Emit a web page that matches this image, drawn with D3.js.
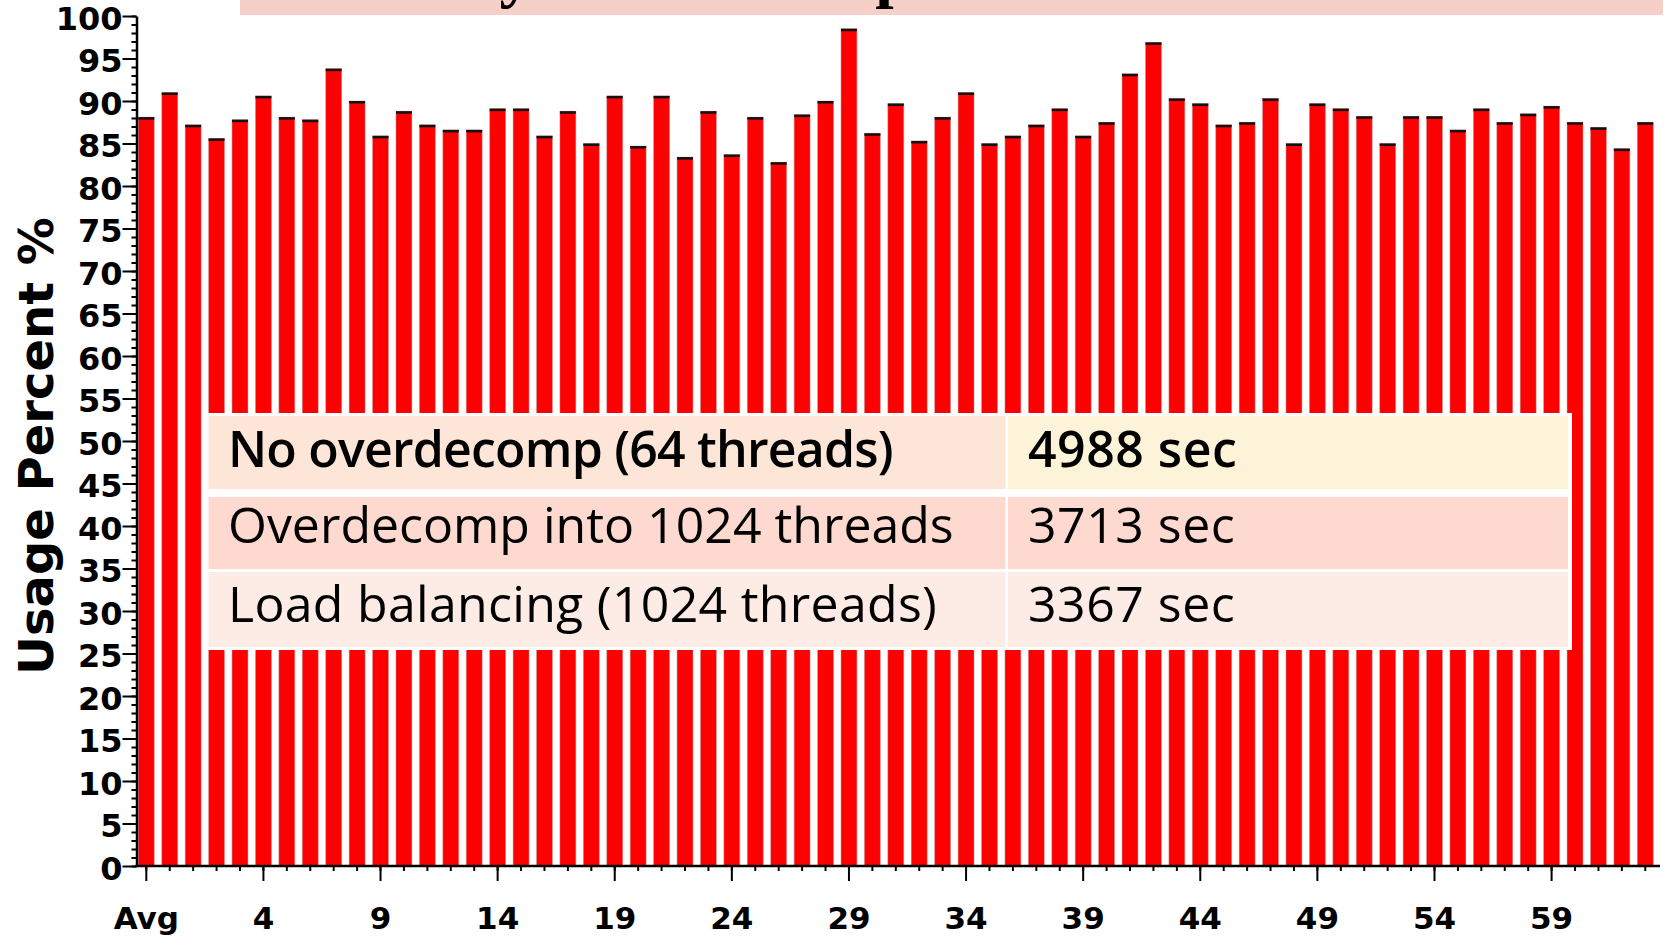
<!DOCTYPE html>
<html>
<head>
<meta charset="utf-8">
<script src="https://cdn.jsdelivr.net/npm/d3@7"></script>
<style>
  body { margin: 0; background: #fff; }
  svg { display: block; }
  .axis path, .axis line { stroke: #000; }
  .axis text { font-family: "DejaVu Sans", sans-serif; font-weight: bold; fill: #000; }
  .cell-text { font-family: "Open Sans", sans-serif; fill: #000; }
</style>
</head>
<body>
<svg id="chart"></svg>
<script>
'use strict';

// processor ids along the x axis ("Avg" first, then PE 0..63)
var categories = ['Avg', '0', '1', '2', '3', '4', '5', '6', '7', '8', '9', '10', '11', '12', '13', '14', '15',
  '16', '17', '18', '19', '20', '21', '22', '23', '24', '25', '26', '27', '28', '29', '30', '31',
  '32', '33', '34', '35', '36', '37', '38', '39', '40', '41', '42', '43', '44', '45', '46', '47',
  '48', '49', '50', '51', '52', '53', '54', '55', '56', '57', '58', '59', '60', '61', '62', '63'];

// usage percent per processor
var usage = [88.1, 91.0, 87.2, 85.6, 87.8, 90.6, 88.1, 87.8, 93.8, 90.0, 85.9, 88.8, 87.2, 86.6, 86.6, 89.1, 89.1,
  85.9, 88.8, 85.0, 90.6, 84.7, 90.6, 83.4, 88.8, 83.7, 88.1, 82.8, 88.4, 90.0, 98.5, 86.2, 89.7,
  85.3, 88.1, 91.0, 85.0, 85.9, 87.2, 89.1, 85.9, 87.5, 93.2, 96.9, 90.3, 89.7, 87.2, 87.5, 90.3,
  85.0, 89.7, 89.1, 88.2, 85.0, 88.2, 88.2, 86.6, 89.1, 87.5, 88.5, 89.4, 87.5, 86.9, 84.4, 87.5];

var xTickLabels = ['Avg', '4', '9', '14', '19', '24', '29', '34', '39', '44', '49', '54', '59'];
var yTickValues = [0, 5, 10, 15, 20, 25, 30, 35, 40, 45, 50, 55, 60, 65, 70, 75, 80, 85, 90, 95, 100];

// overlay table
var configs = ['No overdecomp (64 threads)', 'Overdecomp into 1024 threads', 'Load balancing (1024 threads)'];
var times = ['4988 sec', '3713 sec', '3367 sec'];

var titleText = 'Utilization by Overdecomposition';

var W = 1671, H = 938;
var svg = d3.select('#chart').attr('width', W).attr('height', H);

var x = d3.scaleBand()
  .domain(categories)
  .range([134.6, 1657])
  .paddingInner(0.32)
  .paddingOuter(0.16);

var y = d3.scaleLinear().domain([0, 100]).range([866, 16]);

// title box, cut off at the top of the picture
var titleBox = svg.append('g');
titleBox.append('rect')
  .attr('x', 240).attr('y', 0).attr('width', 1423).attr('height', 15)
  .attr('fill', '#f6cfc9');
var title = titleBox.append('text')
  .attr('x', 0).attr('y', -5)
  .style('font-family', '"Liberation Serif", serif')
  .style('font-weight', 'bold')
  .style('font-size', '66px')
  .attr('fill', '#000')
  .text(titleText);
// line the descender of "y" up with the one visible in the box
var yIdx = titleText.indexOf('y');
var yBox = title.node().getExtentOfChar(yIdx);
title.attr('x', 516 - (yBox.x + yBox.width / 2));

// bars
var bars = svg.append('g');
bars.selectAll('rect.bar')
  .data(usage)
  .enter().append('rect').attr('class', 'bar')
    .attr('x', function(d, i) { return x(categories[i]); })
    .attr('y', function(d) { return y(d); })
    .attr('width', x.bandwidth())
    .attr('height', function(d) { return y(0) - y(d); })
    .attr('fill', '#ff0000')
    .attr('stroke', 'rgba(200,150,150,0.6)')
    .attr('stroke-width', 0.8);

bars.selectAll('rect.cap')
  .data(usage)
  .enter().append('rect').attr('class', 'cap')
    .attr('x', function(d, i) { return x(categories[i]); })
    .attr('y', function(d) { return y(d); })
    .attr('width', x.bandwidth())
    .attr('height', 2.5)
    .attr('fill', '#111');

// y axis: minor ticks every 1, labelled ticks every 5
var yAxisX = 136.5;
svg.append('g')
  .attr('class', 'axis')
  .attr('transform', 'translate(' + yAxisX + ',0)')
  .call(d3.axisLeft(y).tickValues(d3.range(0, 101, 1)).tickSize(5).tickFormat(''))
  .call(function(g) { g.select('.domain').remove(); })
  .selectAll('line').attr('stroke-width', 2);

var yAxis = svg.append('g')
  .attr('class', 'axis')
  .attr('transform', 'translate(' + yAxisX + ',0)')
  .call(d3.axisLeft(y).tickValues(yTickValues).tickSize(14).tickSizeOuter(0).tickPadding(0));
yAxis.select('.domain').attr('stroke-width', 2.5);
yAxis.selectAll('line').attr('stroke-width', 2);
yAxis.selectAll('text')
  .style('font-size', '32px')
  .attr('y', 3);

// x axis line
svg.append('line')
  .attr('x1', yAxisX - 1).attr('x2', 1660)
  .attr('y1', y(0)).attr('y2', y(0))
  .attr('stroke', '#000').attr('stroke-width', 2.5);

// x axis: small tick per processor, long labelled tick every fifth
svg.append('g')
  .attr('class', 'axis')
  .attr('transform', 'translate(0,' + y(0) + ')')
  .call(d3.axisBottom(x).tickSize(5).tickFormat(''))
  .call(function(g) { g.select('.domain').remove(); })
  .selectAll('line').attr('stroke-width', 2);

var xAxis = svg.append('g')
  .attr('class', 'axis')
  .attr('transform', 'translate(0,' + y(0) + ')')
  .call(d3.axisBottom(x).tickValues(xTickLabels).tickSize(15).tickPadding(26));
xAxis.select('.domain').remove();
xAxis.selectAll('line').attr('stroke-width', 2);
xAxis.selectAll('text').style('font-size', '31px');

// y axis title
svg.append('text')
  .attr('transform', 'translate(53,446) rotate(-90)')
  .attr('text-anchor', 'middle')
  .style('font-family', '"DejaVu Sans", sans-serif')
  .style('font-weight', 'bold')
  .style('font-size', '48px')
  .text('Usage Percent %');

// overlay table
var table = svg.append('g');
table.append('rect')
  .attr('x', 203).attr('y', 413).attr('width', 1369).attr('height', 237)
  .attr('fill', '#fff');

var rowTop = [416, 497, 572];
var rowH = [73, 72, 75];
var leftFill = ['#fde6d8', '#fdd9cf', '#fdece6'];
var rightFill = ['#fdf3d8', '#fdd9cf', '#fdece6'];
var baseline = [467, 543, 622];
var spacing = ['-0.8px', '0px', '0.3px'];

configs.forEach(function(c, i) {
  table.append('rect')
    .attr('x', 208.5).attr('y', rowTop[i]).attr('width', 797).attr('height', rowH[i])
    .attr('fill', leftFill[i]);
  table.append('rect')
    .attr('x', 1008).attr('y', rowTop[i]).attr('width', 560).attr('height', rowH[i])
    .attr('fill', rightFill[i]);
  table.append('text').attr('class', 'cell-text')
    .attr('x', 228).attr('y', baseline[i])
    .style('font-size', '50px')
    .style('font-weight', i === 0 ? 600 : 400)
    .style('letter-spacing', spacing[i])
    .text(c);
  table.append('text').attr('class', 'cell-text')
    .attr('x', 1028).attr('y', baseline[i])
    .style('font-size', '50px')
    .style('font-weight', i === 0 ? 600 : 400)
    .style('letter-spacing', '0.5px')
    .text(times[i]);
});
</script>
</body>
</html>
